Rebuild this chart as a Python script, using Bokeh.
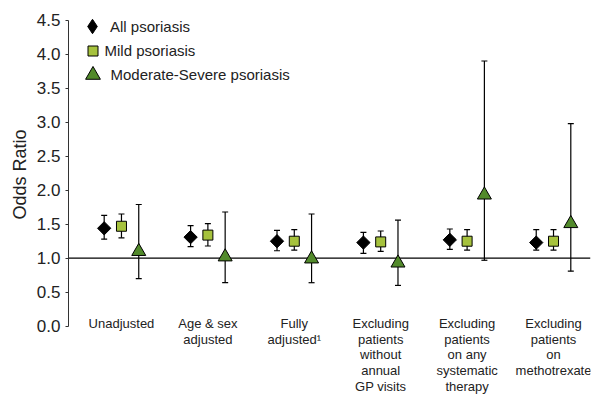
import math
from bokeh.plotting import figure
from bokeh.models import (ColumnDataSource, Whisker, TeeHead, Span, Legend, LegendItem,
                          FixedTicker, NumeralTickFormatter, Range1d, Title)
from bokeh.core.properties import value
from bokeh.embed import file_html
from bokeh.resources import INLINE

# ---- data ----
categories = ["Unadjusted", "Age & sex\nadjusted", "Fully\nadjusted\u00b9",
              "Excluding\npatients\nwithout\nannual\nGP visits",
              "Excluding\npatients\non any\nsystematic\ntherapy",
              "Excluding\npatients\non\nmethotrexate"]
all_or = [1.44, 1.31, 1.25, 1.23, 1.27, 1.23]
all_lo = [1.28, 1.17, 1.11, 1.07, 1.13, 1.12]
all_hi = [1.63, 1.48, 1.41, 1.38, 1.43, 1.42]
mild_or = [1.47, 1.34, 1.25, 1.24, 1.25, 1.25]
mild_lo = [1.30, 1.18, 1.12, 1.10, 1.12, 1.12]
mild_hi = [1.65, 1.51, 1.42, 1.40, 1.42, 1.42]
mod_or = [1.10, 1.02, 0.99, 0.93, 1.93, 1.51]
mod_lo = [0.70, 0.64, 0.64, 0.60, 0.97, 0.81]
mod_hi = [1.79, 1.68, 1.65, 1.56, 3.90, 2.98]
y_ticks = [0, 0.5, 1.0, 1.5, 2.0, 2.5, 3.0, 3.5, 4.0, 4.5]
series_names = ["All psoriasis", "Mild psoriasis", "Moderate-Severe psoriasis"]

FONT = "Liberation Sans"
TXT = "#222222"
FRAME_H = 383

p = figure(width=598, height=394, output_backend="svg", toolbar_location=None,
           x_range=Range1d(-0.613, 5.428), y_range=Range1d(-1.004, 4.628),
           min_border_left=68, min_border_top=11, min_border_bottom=0, min_border_right=8)
p.outline_line_color = None
p.grid.visible = False
p.xaxis.visible = False
p.background_fill_color = "white"

yax = p.yaxis[0]
yax.ticker = FixedTicker(ticks=y_ticks, minor_ticks=[])
yax.formatter = NumeralTickFormatter(format="0.0")
yax.bounds = (y_ticks[0], y_ticks[-1])
yax.major_label_text_font = FONT
yax.major_label_text_font_size = "17px"
yax.major_label_text_color = TXT
yax.major_label_standoff = 5
yax.major_tick_out = 3
yax.major_tick_in = 0
yax.minor_tick_out = 0
yax.minor_tick_in = 0
yax.axis_line_color = "#333333"
yax.major_tick_line_color = "#333333"

# y-axis title, placed along the 0-4.5 part of the axis
ytitle = Title(text="Odds Ratio", align="left", offset=175, standoff=7,
               text_font=FONT, text_font_size="18px", text_font_style="normal",
               text_color=TXT)
p.add_layout(ytitle, "left")

ref = Span(location=1.0, dimension="width", line_color="black", line_width=1.2, level="underlay")
p.add_layout(ref)

idx = list(range(len(categories)))
off = 0.2
series = [
    (all_or, all_lo, all_hi, -off, "square", 9.4, 45, "black"),
    (mild_or, mild_lo, mild_hi, 0.0, "square", 10, 0, "#a6c23d"),
    (mod_or, mod_lo, mod_hi, off, "triangle", 14, 0, "#528a2b"),
]
renderers = []
for orv, lo, hi, dx, marker, size, ang, color in series:
    src = ColumnDataSource(dict(x=[i + dx for i in idx], y=orv, lo=lo, hi=hi))
    w = Whisker(source=src, base="x", lower="lo", upper="hi", dimension="height",
                line_color="black", line_width=1.2, level="underlay",
                lower_head=TeeHead(size=6, line_color="black", line_width=1.2),
                upper_head=TeeHead(size=6, line_color="black", line_width=1.2))
    p.add_layout(w)
    r = p.scatter("x", "y", source=src, marker=marker, size=size, angle=math.radians(ang),
                  fill_color=color, line_color="black", line_width=1)
    renderers.append(r)

# legend key for the diamond (legend keys are drawn unrotated); no visible point
diamond_key = p.scatter(x=[float("nan")], y=[float("nan")], marker="diamond", size=14,
                        fill_color="black", line_color="black", line_width=1)
legend_keys = [diamond_key, renderers[1], renderers[2]]

lab_src = ColumnDataSource(dict(x=idx, y=[0] * len(categories), text=categories))
p.text("x", "y", text="text", source=lab_src, text_font=value(FONT), text_font_size="13px",
       text_color=TXT, text_align="center", text_baseline="top", y_offset=-10,
       text_line_height=1.04)

# one legend per entry so each key can have its own size
key_boxes = [36, 25, 37]
key_centers = [(24, 15), (24, 39), (24, 63)]   # screen px from frame top-left
label_left = 37
for name, rend, box, (cx, cy) in zip(series_names, legend_keys, key_boxes, key_centers):
    lg = Legend(items=[LegendItem(label=name, renderers=[rend])],
                location=(cx - box / 2, FRAME_H - cy - box / 2),
                glyph_width=box, glyph_height=box, label_height=box, padding=0, margin=0,
                spacing=0, label_standoff=int(round(label_left - (cx + box / 2))),
                label_text_font=FONT, label_text_font_size="15px", label_text_color=TXT,
                border_line_color=None, background_fill_alpha=0)
    p.add_layout(lg)

open("out.html", "w").write(file_html(p, INLINE))
